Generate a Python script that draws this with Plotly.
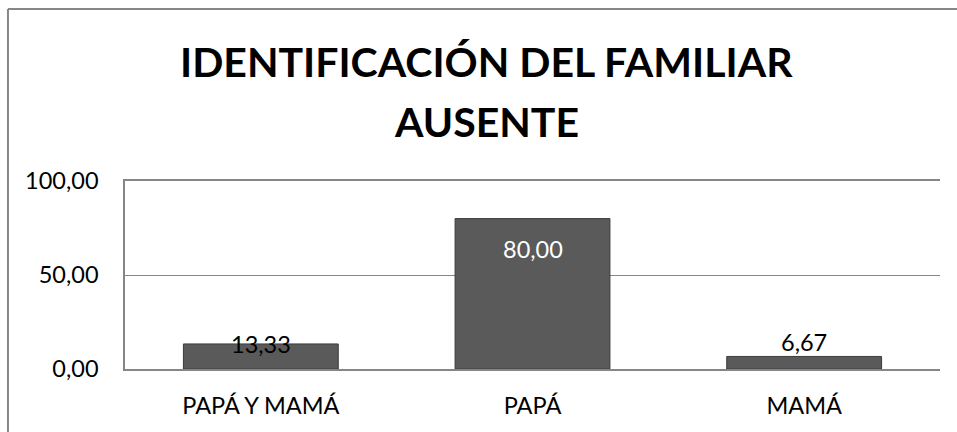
import plotly.graph_objects as go

categories = ["PAPÁ Y MAMÁ", "PAPÁ", "MAMÁ"]
values = [13.33, 80.00, 6.67]
label_colors = ["#000000", "#ffffff", "#000000"]
label_shifts = [0, -30, 14]
y_ticks = [0, 50, 100]
title_lines = ["IDENTIFICACIÓN DEL FAMILIAR", "AUSENTE"]

FONT = "Lato"
W, H = 957, 432

fig = go.Figure()
fig.add_trace(go.Bar(
    x=categories, y=values,
    marker=dict(color="#5a5a5a", line=dict(color="#3c3c3c", width=1)),
    hoverinfo="skip",
))

for c, v, col, sh in zip(categories, values, label_colors, label_shifts):
    fig.add_annotation(x=c, y=v, text=f"{v:.2f}".replace(".", ","),
                       showarrow=False, yanchor="middle", yshift=sh,
                       font=dict(family=FONT, size=23.5, color=col))

# title, two lines
for txt, yy in zip(title_lines, [1.633, 1.318]):
    fig.add_annotation(xref="paper", yref="paper", x=0.444, y=yy, text=txt,
                       showarrow=False, xanchor="center", yanchor="middle",
                       font=dict(family=FONT, size=41, color="#000000", weight="bold"))

# chart frame (top and left edges visible)
fig.add_shape(type="line", xref="paper", yref="paper",
              x0=-0.1436, y0=1.915, x1=1.1, y1=1.915,
              line=dict(color="#878787", width=2), layer="below")
fig.add_shape(type="line", xref="paper", yref="paper",
              x0=-0.1436, y0=-0.6, x1=-0.1436, y1=1.915,
              line=dict(color="#878787", width=2), layer="below")

fig.update_layout(
    width=W, height=H,
    margin=dict(l=125, r=17, t=181, b=63),
    paper_bgcolor="white", plot_bgcolor="white",
    separators=",.",
    showlegend=False,
    bargap=0.43,
    font=dict(family=FONT, size=23.5, color="#000000"),
    xaxis=dict(showgrid=False, showline=True, linecolor="#868686", linewidth=1.5,
               mirror=True,
               ticks="outside", ticklen=0, ticklabelstandoff=15,
               tickfont=dict(family=FONT, size=23.5, color="#000000")),
    yaxis=dict(range=[0, 100], tickvals=y_ticks, tickformat=".2f",
               showgrid=True, gridcolor="#868686", gridwidth=1,
               showline=True, linecolor="#868686", linewidth=1.5,
               zeroline=False, ticks="", ticklabelstandoff=20,
               tickfont=dict(family=FONT, size=23.5, color="#000000")),
)

fig.write_html(
    "out.html",
    config={"displayModeBar": False},
    post_script="document.body.style.margin='0';document.body.style.overflow='hidden';",
)
